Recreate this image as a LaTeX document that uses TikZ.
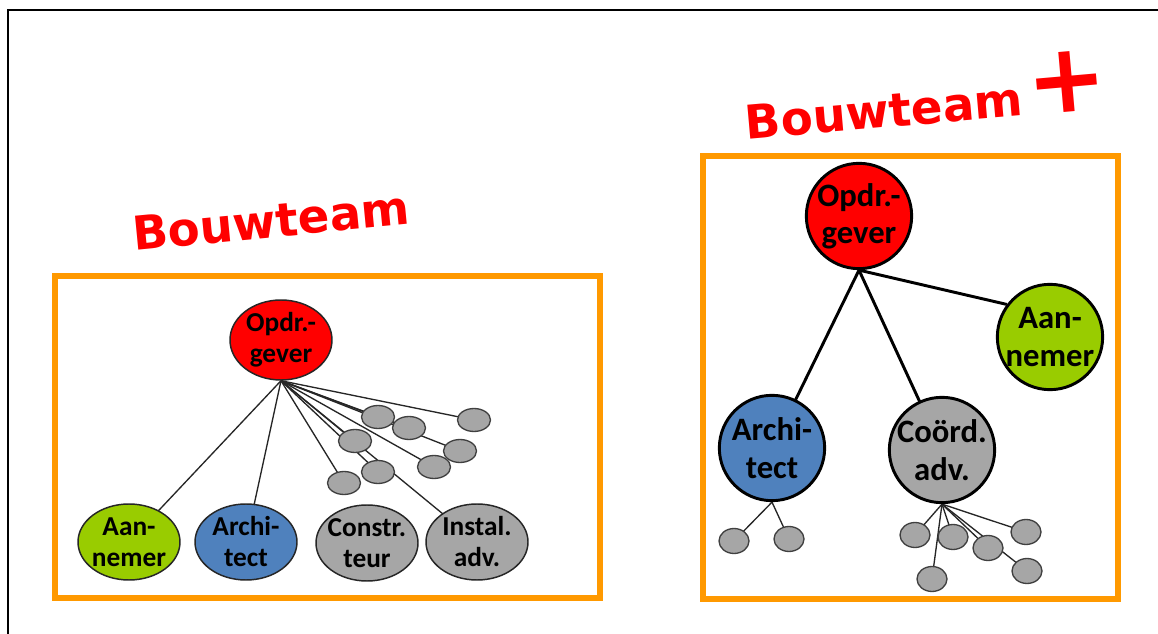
\documentclass[tikz,border=0pt]{standalone}
\usepackage{fontspec}
\setmainfont{Carlito}
\newfontfamily\titlefont{DejaVu Sans}
\usetikzlibrary{shapes.geometric,backgrounds}

\definecolor{boxorange}{RGB}{255,153,0}
\definecolor{leafgreen}{RGB}{153,204,0}
\definecolor{archblue}{RGB}{79,129,189}
\definecolor{softgray}{RGB}{166,166,166}
\definecolor{titlered}{RGB}{255,0,0}

\begin{document}
\begin{tikzpicture}[x=0.75pt,y=-0.75pt,
  frameline/.style={draw=black,line width=1.6pt},
  teambox/.style={draw=boxorange,line width=4.5pt},
  title/.style={text=titlered,inner sep=0pt,font=\titlefont\bfseries\fontsize{35}{40}\selectfont},
  % left (classic) team
  party/.style={ellipse,draw=black!85,line width=1.1pt,inner sep=-16pt,
    minimum width=76.5pt,minimum height=57pt,align=center,
    font=\bfseries\fontsize{20.5}{23.25}\selectfont},
  subparty/.style={ellipse,draw=black!75,fill=softgray,line width=1pt,inner sep=0pt,
    minimum width=24.75pt,minimum height=17.25pt},
  tie/.style={draw=black!85,line width=1pt},
  % right (plus) team
  partyplus/.style={circle,draw=black,line width=2.2pt,inner sep=-18pt,
    minimum size=79pt,align=center,
    font=\bfseries\fontsize{24.5}{28}\selectfont},
  subplus/.style={ellipse,draw=black!75,fill=softgray,line width=1pt,inner sep=0pt,
    minimum width=22.5pt,minimum height=18.75pt},
  tieplus/.style={draw=black,line width=2.2pt},
]
\useasboundingbox (0,0) rectangle (1158,634);

% ---------- titles ----------
\node[title,rotate=5.5] (tleft) at (271,221) {Bouwteam};
\node[title,rotate=5] (tright) at (884,111) {Bouwteam};
\node[text=titlered,inner sep=0pt,rotate=5,
  font=\titlefont\bfseries\fontsize{72}{78}\selectfont] (tplus) at (1067,82) {+};

% ---------- left team ----------
\node[party,fill=red,minimum height=60pt] (lo) at (281,340) {Opdr.-\\gever};
\node[party,fill=leafgreen] (lan) at (129,542) {Aan-\\nemer};
\node[party,fill=archblue] (lar) at (246,542) {Archi-\\tect};
\node[party,fill=softgray] (lco) at (367,543) {Constr.\\teur};
\node[party,fill=softgray] (lin) at (477,542) {Instal.\\adv.};

\node[subparty] (ls1) at (378,417) {};
\node[subparty] (ls2) at (409,428) {};
\node[subparty] (ls3) at (474,420) {};
\node[subparty] (ls4) at (355,441) {};
\node[subparty] (ls5) at (460,451) {};
\node[subparty] (ls6) at (434,467) {};
\node[subparty] (ls7) at (378,472) {};
\node[subparty] (ls8) at (344,483) {};

% ---------- right team ----------
\node[partyplus,fill=red] (ro) at (859,216) {Opdr.-\\gever};
\node[partyplus,fill=leafgreen] (ran) at (1050,337) {Aan-\\nemer};
\node[partyplus,fill=archblue] (rar) at (772,448) {Archi-\\tect};
\node[partyplus,fill=softgray] (rco) at (942,450) {Coörd.\\adv.};

\node[subplus] (ra1) at (734,541) {};
\node[subplus] (ra2) at (789,539) {};
\node[subplus] (rc1) at (915,535) {};
\node[subplus] (rc2) at (953,537) {};
\node[subplus] (rc3) at (988,548) {};
\node[subplus] (rc4) at (1026,532) {};
\node[subplus] (rc5) at (1027,571) {};
\node[subplus] (rc6) at (932,579) {};

\begin{pgfonlayer}{background}
  \fill[white] (0,0) rectangle (1158,634);
  \draw[frameline] (8,645) -- (8,10) -- (1170,10);
  \draw[teambox] (55,276) rectangle (600,598);
  \draw[teambox] (703,156) rectangle (1118,599);

  % left: client linked to every party
  \foreach \t in {lan,lar,lin,ls1,ls2,ls3,ls4,ls5,ls6,ls7,ls8}
    \draw[tie] (lo.south) -- (\t.center);

  % right: client, architect and coordinator
  \draw[tieplus] (ro.south) -- (rar.center);
  \draw[tieplus] (ro.south) -- (rco.center);
  \draw[tieplus] (ro.south) -- (ran.143);
  \foreach \t in {ra1,ra2}
    \draw[tie] (rar.south) -- (\t.center);
  \foreach \t in {rc1,rc2,rc3,rc4,rc5,rc6}
    \draw[tie] (rco.south) -- (\t.center);
\end{pgfonlayer}
\end{tikzpicture}
\end{document}
